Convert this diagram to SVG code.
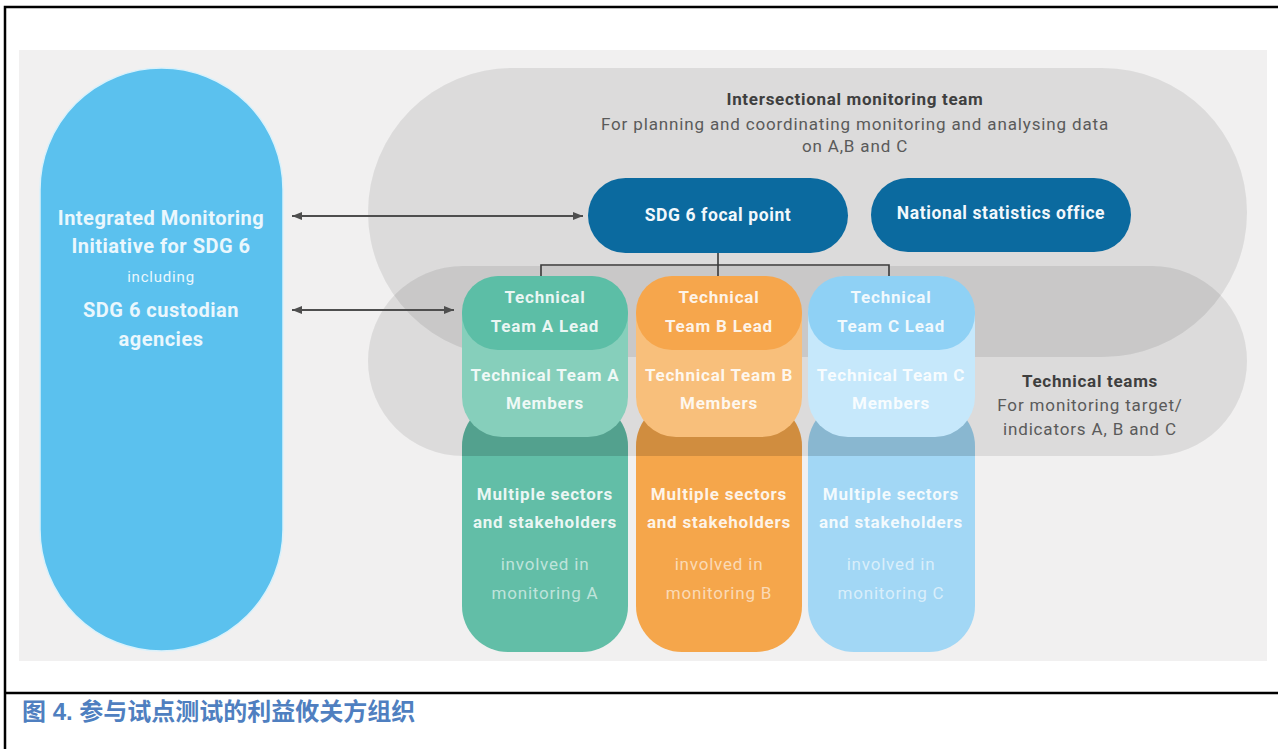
<svg xmlns="http://www.w3.org/2000/svg" width="1278" height="749" viewBox="0 0 1278 749">
  <defs>
    <style>
      .frame { stroke: #000; stroke-width: 2.5; fill: none; }
      .halo { fill: #000; fill-opacity: 0.085; }
      .t { font-family: Roboto, "Liberation Sans", sans-serif; text-anchor: middle; }
      .hdr { font-weight: bold; font-size: 17px; letter-spacing: 0.7px; fill: #3f3f3f; }
      .sub { font-size: 17px; letter-spacing: 0.85px; fill: #5a5a5a; }
      .pillTxt { font-weight: bold; font-size: 17.5px; letter-spacing: 0.6px; fill: #f2f8fc; }
      .imiBig { font-weight: bold; font-size: 20px; letter-spacing: 0.5px; fill: #eaf7fd; }
      .imiSmall { font-size: 15px; letter-spacing: 0.8px; fill: #eaf7fd; }
      .colB { font-weight: bold; font-size: 17px; letter-spacing: 0.8px; fill: #ffffff; fill-opacity: 0.88; }
      .colR { font-size: 17px; letter-spacing: 0.8px; fill: #ffffff; fill-opacity: 0.6; }
      .link { stroke: #4e4e4e; stroke-width: 2; fill: none; }
      .tree { stroke: #3a3a3a; stroke-width: 1.6; fill: none; }
      .caption { font-family: "Liberation Sans", "Noto Sans CJK SC", sans-serif; font-weight: bold; font-size: 24px; fill: #4f7fc0; }
    </style>
    <marker id="arrow" viewBox="0 0 10 8" refX="10" refY="4" markerWidth="10" markerHeight="8" markerUnits="userSpaceOnUse" orient="auto-start-reverse">
      <path d="M0,0 L10,4 L0,8 Z" fill="#4e4e4e"/>
    </marker>
    <clipPath id="techBand">
      <rect x="368" y="266" width="879" height="190" rx="95"/>
    </clipPath>
  </defs>

  <!-- page frame -->
  <rect width="1278" height="749" fill="#ffffff"/>
  <path class="frame" d="M5,749 V7 H1278 M5,693 H1278"/>

  <!-- figure panel -->
  <rect x="19" y="50" width="1248" height="611" fill="#f1f0f0"/>

  <!-- grouping halos -->
  <g id="intersectional-team">
    <rect class="halo" x="368" y="68" width="879" height="289" rx="144.5"/>
    <text class="t hdr" x="855" y="105">Intersectional monitoring team</text>
    <text class="t sub" x="855" y="130">For planning and coordinating monitoring and analysing data</text>
    <text class="t sub" x="855" y="152">on A,B and C</text>
  </g>
  <g id="technical-teams">
    <rect class="halo" x="368" y="266" width="879" height="190" rx="95"/>
    <text class="t hdr" x="1090" y="387">Technical teams</text>
    <text class="t sub" x="1090" y="411">For monitoring target/</text>
    <text class="t sub" x="1090" y="435">indicators A, B and C</text>
  </g>

  <!-- IMI pill -->
  <g id="imi">
    <rect x="40" y="68" width="243" height="583" rx="121.5" fill="#5bc1ee" stroke="#d9f1fb" stroke-width="1.5"/>
    <text class="t imiBig" x="161" y="225">Integrated Monitoring</text>
    <text class="t imiBig" x="161" y="253">Initiative for SDG 6</text>
    <text class="t imiSmall" x="161" y="282">including</text>
    <text class="t imiBig" x="161" y="317">SDG 6 custodian</text>
    <text class="t imiBig" x="161" y="346">agencies</text>
  </g>

  <!-- team columns -->
  <g id="team-a">
    <rect x="462" y="400" width="166" height="252" rx="46" fill="#62bea7"/>
    <rect x="462" y="400" width="166" height="252" rx="46" fill="#000" fill-opacity="0.15" clip-path="url(#techBand)"/>
    <rect x="462" y="276" width="166" height="161" rx="40" fill="#86cfbb"/>
    <rect x="462" y="276" width="166" height="74" rx="36" fill="#5cbea6"/>
    <text class="t colB" x="545" y="303">Technical</text>
    <text class="t colB" x="545" y="332">Team A Lead</text>
    <text class="t colB" x="545" y="381">Technical Team A</text>
    <text class="t colB" x="545" y="409">Members</text>
    <text class="t colB" x="545" y="500">Multiple sectors</text>
    <text class="t colB" x="545" y="528">and stakeholders</text>
    <text class="t colR" x="545" y="570">involved in</text>
    <text class="t colR" x="545" y="599">monitoring A</text>
  </g>
  <g id="team-b">
    <rect x="636" y="400" width="166" height="252" rx="46" fill="#f5a64b"/>
    <rect x="636" y="400" width="166" height="252" rx="46" fill="#000" fill-opacity="0.15" clip-path="url(#techBand)"/>
    <rect x="636" y="276" width="166" height="161" rx="40" fill="#f8bf7b"/>
    <rect x="636" y="276" width="166" height="74" rx="36" fill="#f6a64c"/>
    <text class="t colB" x="719" y="303">Technical</text>
    <text class="t colB" x="719" y="332">Team B Lead</text>
    <text class="t colB" x="719" y="381">Technical Team B</text>
    <text class="t colB" x="719" y="409">Members</text>
    <text class="t colB" x="719" y="500">Multiple sectors</text>
    <text class="t colB" x="719" y="528">and stakeholders</text>
    <text class="t colR" x="719" y="570">involved in</text>
    <text class="t colR" x="719" y="599">monitoring B</text>
  </g>
  <g id="team-c">
    <rect x="808" y="400" width="167" height="252" rx="46" fill="#a2d7f5"/>
    <rect x="808" y="400" width="167" height="252" rx="46" fill="#000" fill-opacity="0.15" clip-path="url(#techBand)"/>
    <rect x="808" y="276" width="167" height="161" rx="40" fill="#c6e8fb"/>
    <rect x="808" y="276" width="167" height="74" rx="36" fill="#8fd1f5"/>
    <text class="t colB" x="891" y="303">Technical</text>
    <text class="t colB" x="891" y="332">Team C Lead</text>
    <text class="t colB" x="891" y="381">Technical Team C</text>
    <text class="t colB" x="891" y="409">Members</text>
    <text class="t colB" x="891" y="500">Multiple sectors</text>
    <text class="t colB" x="891" y="528">and stakeholders</text>
    <text class="t colR" x="891" y="570">involved in</text>
    <text class="t colR" x="891" y="599">monitoring C</text>
  </g>

  <!-- coordination nodes -->
  <g id="focal-point">
    <rect x="588" y="178" width="260" height="75" rx="37.5" fill="#0b6a9f"/>
    <text class="t pillTxt" x="718" y="221">SDG 6 focal point</text>
  </g>
  <g id="nso">
    <rect x="871" y="178" width="260" height="74" rx="37" fill="#0b6a9f"/>
    <text class="t pillTxt" x="1001" y="219">National statistics office</text>
  </g>

  <!-- connectors -->
  <g id="connectors">
    <line class="link" x1="292" y1="216" x2="583" y2="216" marker-start="url(#arrow)" marker-end="url(#arrow)"/>
    <line class="link" x1="292" y1="310" x2="454" y2="310" marker-start="url(#arrow)" marker-end="url(#arrow)"/>
    <path class="tree" d="M718,253 V265 M541,276 V265 H889 V276 M718,265 V276"/>
  </g>

  <!-- caption -->
  <text class="caption" x="22" y="720">图 4. 参与试点测试的利益攸关方组织</text>
</svg>
